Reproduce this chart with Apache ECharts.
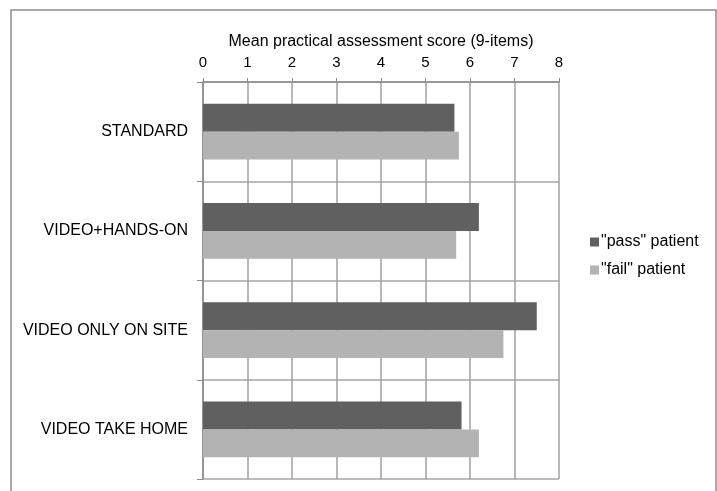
<!DOCTYPE html>
<html>
<head>
<meta charset="utf-8">
<script src="https://cdn.jsdelivr.net/npm/echarts@6/dist/echarts.min.js"></script>
<style>
  html, body { margin: 0; padding: 0; background: #fff; }
  #chart { width: 717px; height: 491px; }
</style>
</head>
<body>
<div id="chart"></div>
<script>
// Teaching method groups, top to bottom
const categories = ['STANDARD', 'VIDEO+HANDS-ON', 'VIDEO ONLY ON SITE', 'VIDEO TAKE HOME'];
// Mean practical assessment score (9 items) per group
const passScores = [5.65, 6.20, 7.50, 5.81];
const failScores = [5.75, 5.69, 6.75, 6.20];
const seriesNames = ['"pass" patient', '"fail" patient'];
const axisTitle = 'Mean practical assessment score (9-items)';

const FONT = '"Liberation Sans", Arial, sans-serif';
const chart = echarts.init(document.getElementById('chart'), null, { renderer: 'canvas' });

chart.setOption({
  animation: false,
  backgroundColor: '#ffffff',
  textStyle: { fontFamily: FONT, color: '#000' },
  grid: { left: 203, right: 158, top: 82, bottom: 12, containLabel: false },
  graphic: [{
    type: 'polyline',
    shape: { points: [[11, 495], [11, 10], [716, 10], [716, 495]] },
    style: { stroke: '#8c8c8c', lineWidth: 1.5, fill: null }
  }],
  legend: {
    orient: 'vertical',
    left: 585, top: 229,
    itemWidth: 9, itemHeight: 9, itemGap: 12,
    icon: 'rect',
    textStyle: { fontFamily: FONT, fontSize: 16, color: '#000', padding: [0, 0, 0, -3] },
    data: seriesNames
  },
  xAxis: {
    type: 'value',
    position: 'top',
    min: 0, max: 8, interval: 1,
    name: axisTitle,
    nameLocation: 'middle',
    nameGap: 32,
    nameTextStyle: { fontFamily: FONT, fontSize: 16, color: '#000' },
    axisLine: { show: true, lineStyle: { color: '#8a8a8a', width: 1.5 } },
    axisTick: { show: true, length: 4, lineStyle: { color: '#8a8a8a' } },
    axisLabel: { margin: 12, fontFamily: FONT, fontSize: 15, color: '#000' },
    splitLine: { show: true, lineStyle: { color: '#a0a0a0', width: 1.5 } }
  },
  yAxis: {
    type: 'category',
    inverse: true,
    data: categories,
    axisLine: { show: true, lineStyle: { color: '#8a8a8a', width: 1.5 } },
    axisTick: { show: true, length: 6, lineStyle: { color: '#8a8a8a' } },
    axisLabel: { margin: 15, padding: [5, 0, 0, 0], fontFamily: FONT, fontSize: 16, color: '#000' },
    splitLine: { show: true, lineStyle: { color: '#a6a6a6', width: 1.5 } }
  },
  series: [
    {
      name: seriesNames[0], type: 'bar', data: passScores,
      barGap: '0%', barCategoryGap: '44%',
      itemStyle: { color: '#606060' }
    },
    {
      name: seriesNames[1], type: 'bar', data: failScores,
      itemStyle: { color: '#b3b3b3' }
    }
  ]
});
</script>
</body>
</html>
